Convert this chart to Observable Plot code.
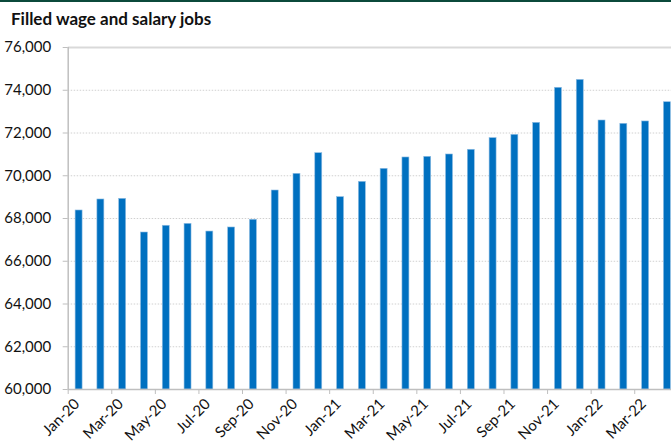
<!DOCTYPE html>
<html>
<head>
<meta charset="utf-8">
<script src="https://cdn.jsdelivr.net/npm/d3@7"></script>
<script src="https://cdn.jsdelivr.net/npm/@observablehq/plot@0.6"></script>
<style>
  html, body { margin: 0; padding: 0; background: #fff; overflow: hidden; }
  #wrap { position: relative; width: 671px; height: 444px; overflow: hidden; background: #fff; }
  #topbar { position: absolute; left: 0; top: 0; width: 671px; height: 2px; background: #0b4a3b; }
  #title { position: absolute; left: 11px; top: 8px; font-family: Lato, sans-serif; font-weight: 700; font-size: 17px; color: #111; white-space: nowrap; }
  #chart { position: absolute; left: 0; top: 0; }
  #chart svg { overflow: hidden; }
</style>
</head>
<body>
<div id="wrap">
  <div id="chart"></div>
  <div id="topbar"></div>
  <div id="title">Filled wage and salary jobs</div>
</div>
<script>
const months = ["Jan-20","Feb-20","Mar-20","Apr-20","May-20","Jun-20","Jul-20","Aug-20","Sep-20","Oct-20","Nov-20","Dec-20",
                "Jan-21","Feb-21","Mar-21","Apr-21","May-21","Jun-21","Jul-21","Aug-21","Sep-21","Oct-21","Nov-21","Dec-21",
                "Jan-22","Feb-22","Mar-22","Apr-22"];
const jobs = [68375, 68890, 68920, 67345, 67660, 67750, 67390, 67580, 67940, 69310, 70090, 71055,
              69000, 69715, 70325, 70855, 70885, 70995, 71215, 71760, 71915, 72475, 74115, 74485,
              72585, 72430, 72540, 73440];
const labeledMonths = months.filter((d, i) => i % 2 === 0);
const yTicks = [60000, 62000, 64000, 66000, 68000, 70000, 72000, 74000, 76000];
const innerGrid = [62000, 64000, 66000, 68000, 70000, 72000, 74000];

const data = months.map((m, i) => ({month: m, value: jobs[i]}));

const W = 671, H = 444;
const mLeft = 67.7, mRight = 677.8, mTop = 47, mBottom = 389;
const step = (mRight - mLeft) / months.length;
const fmt = d3.format(",");

const chart = Plot.plot({
  width: W,
  height: H,
  marginLeft: mLeft,
  marginRight: 0,
  marginTop: mTop,
  marginBottom: H - mBottom,
  style: {fontFamily: "Lato, sans-serif", fontSize: "15px", color: "#111", background: "transparent", overflow: "hidden"},
  x: {type: "band", domain: months, range: [mLeft, mRight], paddingInner: 0.68, paddingOuter: 0.34, round: false, axis: null},
  y: {domain: [60000, 76000], range: [mBottom, mTop], axis: null},
  marks: [
    Plot.ruleY(innerGrid, {stroke: "#d0d0d0", strokeWidth: 1, strokeDasharray: "1.5,1.5"}),
    Plot.ruleY([76000], {stroke: "#d9d9d9", strokeWidth: 2}),
    Plot.barY(data, {x: "month", y1: 60000, y2: "value", fill: "#0070c0", stroke: "#8fbde3", strokeWidth: 0.6}),
    Plot.ruleX([months[0]], {dx: -step / 2, y1: 60000, y2: 76000, stroke: "#bfbfbf", strokeWidth: 1.5}),
    Plot.ruleY([60000], {stroke: "#bfbfbf", strokeWidth: 1.5}),
    Plot.axisY({ticks: yTicks, tickSize: 5, tickPadding: 12, tickFormat: fmt, stroke: "#bfbfbf", fill: "#111", fontSize: 15, label: null}),
    Plot.axisX({ticks: labeledMonths, tickSize: 5, text: null, dx: -step / 2, stroke: "#bfbfbf", label: null}),
    Plot.text(labeledMonths, {x: d => d, y: 60000, text: d => d, rotate: -45, textAnchor: "end", dx: -2, dy: 12, fill: "#111", fontSize: 15})
  ]
});
document.getElementById("chart").appendChild(chart);
</script>
</body>
</html>
